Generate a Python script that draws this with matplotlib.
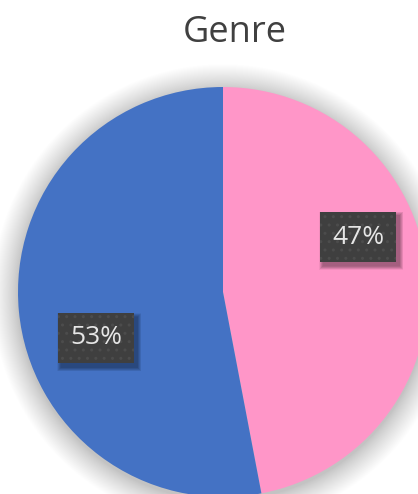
import matplotlib
matplotlib.use("Agg")
import matplotlib.pyplot as plt
import matplotlib.patheffects as pe
from matplotlib.patches import Circle, Rectangle
import numpy as np

title = "Genre"
categories = ["Female", "Male"]
values = [47, 53]
colors = ["#FF96C8", "#4472C4"]

W, H = 418, 494
fig = plt.figure(figsize=(W / 100, H / 100), dpi=100)
fig.patch.set_facecolor("white")
ax = fig.add_axes([0, 0, 1, 1])
ax.set_xlim(0, W)
ax.set_ylim(0, H)
ax.set_aspect("equal")
ax.axis("off")

cx, cy, r = 223, H - 292, 205

# soft shadow around pie
n = 60
for i in range(n):
    rr = r + 26 * (1 - i / n) ** 1.2
    ax.add_patch(Circle((cx, cy - 3), rr, color="black", alpha=0.0032, lw=0, zorder=0))

wedges, _ = ax.pie(values, colors=colors, startangle=90, counterclock=False,
                   center=(cx, cy), radius=r, frame=True,
                   wedgeprops=dict(linewidth=0))
ax.set_xlim(0, W)
ax.set_ylim(0, H)
ax.axis("off")

# label anchor positions (pixel coords from top-left)
label_pos = [(358, 237), (96, 338)]
bw, bh = 76, 50
for v, (lx, ly) in zip(values, label_pos):
    y = H - ly
    # blurred drop shadow
    for k in range(8):
        g = 8 - k
        ax.add_patch(Rectangle((lx - bw / 2 + 3 - g / 2, y - bh / 2 - 4 - g / 2), bw + g, bh + g,
                               fc="black", alpha=0.05, lw=0, zorder=4))
    ax.add_patch(Rectangle((lx - bw / 2, y - bh / 2), bw, bh, fc="#3F3F3F",
                           ec="#4C4C4C", hatch="..", lw=0, zorder=4.5))
    ax.text(lx, y, f"{v}%", ha="center", va="center", fontsize=19,
            color="#E6E6E6", family=["Open Sans", "DejaVu Sans"], zorder=5)

plt.rcParams["hatch.linewidth"] = 0.6

fig.text(235 / W, 1 - 33 / H, title, ha="center", va="center", fontsize=26,
         color="#404040", family=["Open Sans", "DejaVu Sans"])

fig.savefig("out.png", dpi=100, facecolor="white")
